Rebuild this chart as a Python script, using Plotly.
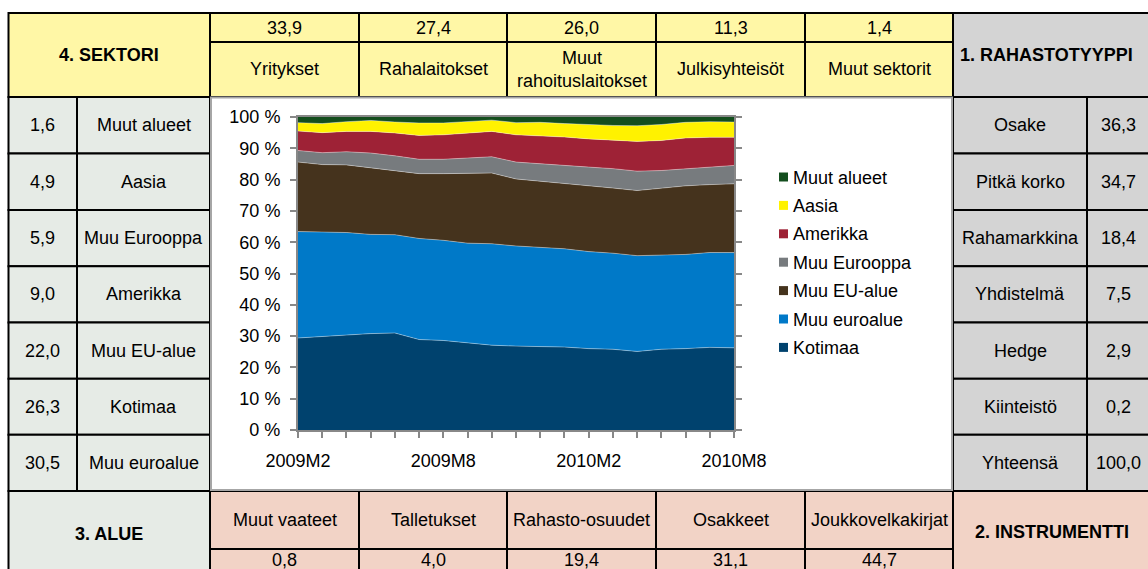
import plotly.graph_objects as go

# ---------------- data ----------------
months = ["2009M2", "2009M3", "2009M4", "2009M5", "2009M6", "2009M7", "2009M8",
          "2009M9", "2009M10", "2009M11", "2009M12", "2010M1", "2010M2", "2010M3",
          "2010M4", "2010M5", "2010M6", "2010M7", "2010M8"]
tick_labels = ["2009M2", "2009M8", "2010M2", "2010M8"]
y_ticks = [0, 10, 20, 30, 40, 50, 60, 70, 80, 90, 100]

kotimaa = [29.4, 29.9, 30.5, 30.8, 31.0, 28.9, 28.6, 27.8, 27.1, 26.8, 26.7, 26.5, 26.0, 25.8, 25.1, 25.8, 26.0, 26.4, 26.3]
muu_euroalue = [34.0, 33.3, 32.6, 31.7, 31.4, 32.3, 32.0, 31.9, 32.4, 32.0, 31.6, 31.4, 31.0, 30.7, 30.6, 30.2, 30.1, 30.3, 30.5]
muu_eu_alue = [22.2, 21.6, 21.6, 21.2, 20.5, 20.7, 21.3, 22.3, 22.6, 21.4, 21.2, 21.0, 21.1, 20.8, 20.8, 21.2, 21.9, 21.7, 22.0]
muu_eurooppa = [3.7, 3.8, 4.2, 4.8, 4.7, 4.6, 4.6, 5.0, 5.2, 5.4, 5.5, 5.7, 5.9, 6.2, 6.2, 5.7, 5.5, 5.7, 5.9]
amerikka = [6.2, 6.4, 6.5, 6.9, 7.3, 7.6, 7.8, 7.9, 8.1, 8.7, 9.0, 9.0, 9.0, 9.2, 9.5, 9.6, 9.8, 9.4, 9.0]
aasia = [2.7, 2.9, 3.1, 3.5, 3.5, 4.0, 3.8, 3.7, 3.6, 3.9, 4.3, 4.3, 4.5, 4.6, 5.0, 5.1, 5.0, 5.0, 4.9]
muut_alueet = [1.8, 2.1, 1.5, 1.1, 1.6, 1.9, 1.9, 1.4, 1.0, 1.8, 1.7, 2.1, 2.5, 2.7, 2.8, 2.4, 1.7, 1.5, 1.6]

series_names = ["Kotimaa", "Muu euroalue", "Muu EU-alue", "Muu Eurooppa", "Amerikka", "Aasia", "Muut alueet"]
series_values = [kotimaa, muu_euroalue, muu_eu_alue, muu_eurooppa, amerikka, aasia, muut_alueet]
series_colors = ["#00426E", "#0079C8", "#45331D", "#777B7E", "#9E2236", "#FFF200", "#144E1E"]

sector_names = ["Yritykset", "Rahalaitokset", "Muut<br>rahoituslaitokset", "Julkisyhteisöt", "Muut sektorit"]
sector_values = [33.9, 27.4, 26.0, 11.3, 1.4]

region_names = ["Muut alueet", "Aasia", "Muu Eurooppa", "Amerikka", "Muu EU-alue", "Kotimaa", "Muu euroalue"]
region_values = [1.6, 4.9, 5.9, 9.0, 22.0, 26.3, 30.5]

fund_types = ["Osake", "Pitkä korko", "Rahamarkkina", "Yhdistelmä", "Hedge", "Kiinteistö", "Yhteensä"]
fund_values = [36.3, 34.7, 18.4, 7.5, 2.9, 0.2, 100.0]

instrument_names = ["Muut vaateet", "Talletukset", "Rahasto-osuudet", "Osakkeet", "Joukkovelkakirjat"]
instrument_values = [0.8, 4.0, 19.4, 31.1, 44.7]

titles = {"sector": "4. SEKTORI", "fund": "1. RAHASTOTYYPPI", "region": "3. ALUE", "instr": "2. INSTRUMENTTI"}

# ---------------- layout geometry (pixels) ----------------
W, H = 1148, 569
FONT = "Liberation Sans, Arial, sans-serif"
FS = 18


def px(x):
    return x / W


def py(y):
    return 1 - y / H


def fmt(v):
    return f"{v:.1f}".replace(".", ",")


COLS = [210, 359, 507, 656, 805, 953]
TOP = [13, 42, 97]
ROWS = [97, 153.5, 210, 266.2, 322.5, 378.7, 434.8, 491]
LEFT = [8.5, 77, 210]
RIGHT = [953, 1087, 1152]
BOT = [491, 549, 580]

YELLOW = "#FFF7A6"
GREENGRAY = "#E6EBE6"
GRAY = "#D4D4D4"
PINK = "#F2D3C6"

shapes = []
annotations = []


def cell(x0, y0, x1, y1, fill):
    shapes.append(dict(type="rect", xref="paper", yref="paper",
                       x0=px(x0), x1=px(x1), y0=py(y1), y1=py(y0),
                       fillcolor=fill, line=dict(color="black", width=2), layer="below"))


def text(xc, yc, t, size=FS, anchor="center"):
    annotations.append(dict(xref="paper", yref="paper", x=px(xc), y=py(yc),
                            xanchor=anchor, yanchor="middle", showarrow=False,
                            text=t, font=dict(family=FONT, size=size, color="black")))


# header (sectors)
cell(LEFT[0], TOP[0], LEFT[2], TOP[2], YELLOW)
text((LEFT[0] + LEFT[2]) / 2, (TOP[0] + TOP[2]) / 2, f"<b>{titles['sector']}</b>")
for i, (n, v) in enumerate(zip(sector_names, sector_values)):
    cell(COLS[i], TOP[0], COLS[i + 1], TOP[1], YELLOW)
    cell(COLS[i], TOP[1], COLS[i + 1], TOP[2], YELLOW)
    xc = (COLS[i] + COLS[i + 1]) / 2
    text(xc, (TOP[0] + TOP[1]) / 2 + 0.5, fmt(v))
    text(xc, (TOP[1] + TOP[2]) / 2, n)

cell(RIGHT[0], TOP[0], RIGHT[2], TOP[2], GRAY)
text(958, (TOP[0] + TOP[2]) / 2, f"<b>{titles['fund']}</b>", anchor="left")

# left column (regions) and right column (fund types)
for i in range(7):
    y0, y1 = ROWS[i], ROWS[i + 1]
    yc = (y0 + y1) / 2
    cell(LEFT[0], y0, LEFT[1], y1, GREENGRAY)
    cell(LEFT[1], y0, LEFT[2], y1, GREENGRAY)
    text((LEFT[0] + LEFT[1]) / 2, yc, fmt(region_values[i]))
    text((LEFT[1] + LEFT[2]) / 2, yc, region_names[i])
    cell(RIGHT[0], y0, RIGHT[1], y1, GRAY)
    cell(RIGHT[1], y0, RIGHT[2], y1, GRAY)
    text((RIGHT[0] + RIGHT[1]) / 2, yc, fund_types[i])
    text((RIGHT[1] + 1150) / 2, yc, fmt(fund_values[i]))

# bottom (instruments)
cell(LEFT[0], BOT[0], LEFT[2], BOT[2], GREENGRAY)
text((LEFT[0] + LEFT[2]) / 2, 534, f"<b>{titles['region']}</b>")
for i, (n, v) in enumerate(zip(instrument_names, instrument_values)):
    cell(COLS[i], BOT[0], COLS[i + 1], BOT[1], PINK)
    cell(COLS[i], BOT[1], COLS[i + 1], BOT[2], PINK)
    xc = (COLS[i] + COLS[i + 1]) / 2
    text(xc, (BOT[0] + BOT[1]) / 2, n)
    text(xc, 560, fmt(v))
cell(RIGHT[0], BOT[0], RIGHT[2], BOT[2], PINK)
text((RIGHT[0] + 1150) / 2, 532, f"<b>{titles['instr']}</b>")

# chart box
shapes.append(dict(type="rect", xref="paper", yref="paper",
                   x0=px(211), x1=px(952), y0=py(490), y1=py(97.5),
                   fillcolor="white", line=dict(color="#A6A6A6", width=2), layer="below"))

# manual legend (top to bottom = reverse stack order)
LEG_X0, LEG_Y0, LEG_STEP, SQ = 779, 177, 28.4, 9
for k, idx in enumerate(range(len(series_names) - 1, -1, -1)):
    yc = LEG_Y0 + k * LEG_STEP
    shapes.append(dict(type="rect", xref="paper", yref="paper",
                       x0=px(LEG_X0), x1=px(LEG_X0 + SQ), y0=py(yc + SQ / 2), y1=py(yc - SQ / 2),
                       fillcolor=series_colors[idx], line=dict(width=0), layer="above"))
    text(LEG_X0 + SQ + 3, yc + 0.5, series_names[idx], anchor="left")

# ---------------- chart ----------------
fig = go.Figure()
for i, (name, vals, col) in enumerate(zip(series_names, series_values, series_colors)):
    fig.add_trace(go.Scatter(
        x=months, y=vals, name=name, stackgroup="one", groupnorm="percent",
        mode="lines" if i < len(series_names) - 1 else "none",
        line=dict(width=0.8, color="rgba(255,255,255,0.45)"),
        fillcolor=col, showlegend=False))

ticktext = [m if m in tick_labels else "" for m in months]

fig.update_layout(
    width=W, height=H, margin=dict(l=0, r=0, t=0, b=0, pad=0, autoexpand=False),
    paper_bgcolor="white", plot_bgcolor="white",
    font=dict(family=FONT, size=FS, color="black"),
    showlegend=False,
    shapes=shapes, annotations=annotations,
    xaxis=dict(domain=[px(298), px(734)], type="category", range=[0, len(months) - 1],
               automargin=False,
               tickmode="array", tickvals=months, ticktext=ticktext,
               showline=True, linecolor="#888888", linewidth=2, mirror=True,
               ticks="outside", ticklen=6, tickwidth=2, tickcolor="#888888",
               showgrid=False, zeroline=False, tickangle=0,
               tickfont=dict(family=FONT, size=FS, color="black"), ticklabelstandoff=7),
    yaxis=dict(domain=[py(430), py(117)], range=[0, 100], tickmode="array",
               automargin=False,
               tickvals=y_ticks, ticktext=[f"{v} %" for v in y_ticks],
               showline=True, linecolor="#888888", linewidth=2, mirror="ticks",
               ticks="outside", ticklen=6, tickwidth=2, tickcolor="#888888",
               showgrid=False, zeroline=False,
               tickfont=dict(family=FONT, size=FS, color="black"), ticklabelstandoff=6),
)

fig.write_html("out.html", config={"displayModeBar": False},
               post_script="document.body.style.margin='0';document.body.style.overflow='hidden';")
